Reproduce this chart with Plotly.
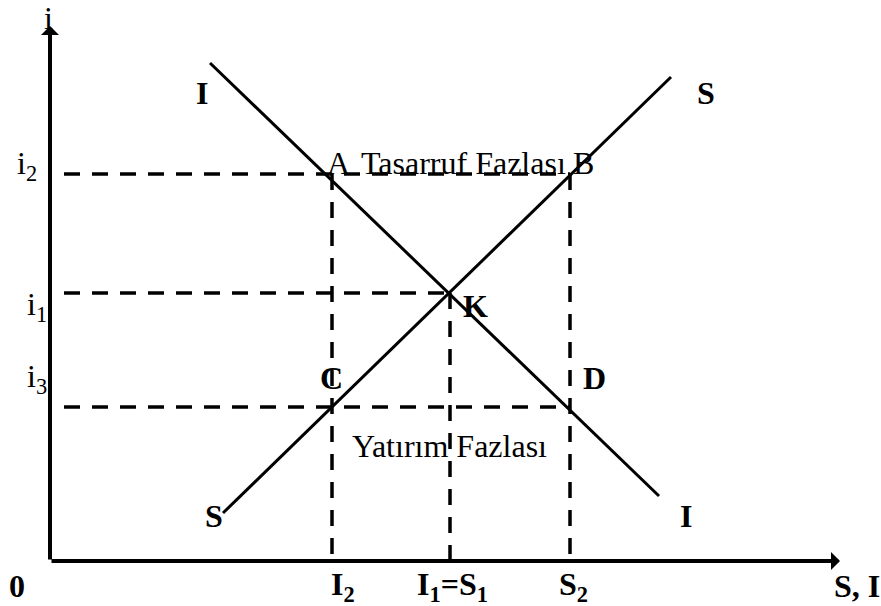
"""
Tasarruf - yatırım dengesi diyagramı (S, I eğrileri ve faiz seviyeleri).
"""

import plotly.graph_objects as go

# ---------------------------------------------------------------------------
# Data
# ---------------------------------------------------------------------------

# faiz seviyeleri
i_names  = ["i2", "i1", "i3"]
i_values = [38.7, 26.8, 15.4]

# miktarlar (yatay eksen)
q_names  = ["I2", "I1=S1", "S2"]
q_values = [28.2, 40.0, 52.0]

# yatırım (I) ve tasarruf (S) eğrileri — uç noktalar
invest_x = [16.0, 60.9]
invest_y = [49.8, 6.5]
saving_x = [17.3, 62.1]
saving_y = [4.8, 48.4]

# eksen uzunlukları
x_axis_end = 79.0
y_axis_end = 53.5

# ---------------------------------------------------------------------------
# Style
# ---------------------------------------------------------------------------

FONT = "Liberation Serif, Times New Roman, serif"
INK = "#000000"
DASH = "16px,12px"
SIZE = 32

i2, i1, i3 = i_values
I2, I1, S2 = q_values

fig = go.Figure()


def _line(xs, ys, dash=None, width=3):
    fig.add_trace(
        go.Scatter(
            x=xs, y=ys, mode="lines",
            line=dict(color=INK, width=width, dash=dash),
            hoverinfo="skip", showlegend=False,
        )
    )


# eğriler
_line(invest_x, invest_y)
_line(saving_x, saving_y)

# kesikli yardımcı çizgiler
dash_start = 1.4
_line([dash_start, S2], [i2, i2], DASH, 3.5)
_line([dash_start, I1], [i1, i1], DASH, 3.5)
_line([dash_start, S2], [i3, i3], DASH, 3.5)
_line([I2, I2], [i2, 0], DASH, 3.5)
_line([I1, I1], [i1, 0], DASH, 3.5)
_line([S2, S2], [i2, 0], DASH, 3.5)

annotations = []

# eksenler (ok başlı)
for tip in [(x_axis_end, 0), (0, y_axis_end)]:
    annotations.append(dict(
        x=tip[0], y=tip[1], ax=0, ay=0, xref="x", yref="y",
        axref="x", ayref="y", text="", showarrow=True,
        arrowhead=1, arrowsize=0.75, arrowwidth=4, arrowcolor=INK,
        font=dict(size=SIZE),
    ))


def _label(x, y, text, dx, dy, bold=False, size=SIZE):
    if bold:
        text = f"<b>{text}</b>"
    annotations.append(dict(
        x=x, y=y, xref="x", yref="y", text=text, showarrow=False,
        xshift=dx, yshift=dy, xanchor="center", yanchor="middle",
        font=dict(family=FONT, size=size, color=INK),
    ))


def _sub(name):
    # "i2" -> i<sub>2</sub>, "I1=S1" -> I<sub>1</sub>=S<sub>1</sub>
    out = ""
    for ch in name:
        out += f"<sub>{ch}</sub>" if ch.isdigit() else ch
    return out


# eksen başlıkları
_label(0, y_axis_end, "i", -2, 8)
_label(0, 0, "0", -33, -25, bold=True)
_label(x_axis_end, 0, "S, I", 17, -25, bold=True)

# faiz etiketleri
for name, val, dx, dy in zip(i_names, i_values, [-23, -13, -13], [9, -13, 29]):
    _label(0, val, _sub(name), dx, dy)

# miktar etiketleri
for name, val, dx in zip(q_names, q_values, [11, 2, 3]):
    _label(val, 0, _sub(name), dx, -25, bold=True)

# eğri adları
_label(invest_x[0], invest_y[0], "I", -8, -30, bold=True)
_label(invest_x[1], invest_y[1], "I", 27, -20, bold=True)
_label(saving_x[0], saving_y[0], "S", -9, -3, bold=True)
_label(saving_x[1], saving_y[1], "S", 35, -16, bold=True)

# noktalar ve bölgeler
_label(I2, i2, "A", 6, 11)
_label(S2, i2, "B", 13, 11)
_label((I2 + S2) / 2, i2, "Tasarruf Fazlası", 12, 11)
_label(I1, i1, "K", 25, -13, bold=True)
_label(I2, i3, "C", -1, 29, bold=True)
_label(S2, i3, "D", 24, 29, bold=True)
_label((I2 + S2) / 2, i3, "Yatırım Fazlası", -2, -39)

fig.update_layout(
    width=881,
    height=606,
    margin=dict(l=0, r=0, t=0, b=0),
    paper_bgcolor="white",
    plot_bgcolor="white",
    xaxis=dict(range=[-5, 83.1], visible=False, fixedrange=True),
    yaxis=dict(range=[-4.5, 56.1], visible=False, fixedrange=True),
    annotations=annotations,
    showlegend=False,
)

# sayfanın varsayılan 8px kenar boşluğunu kaldır, grafik pencereyi tam doldursun
fig.write_html(
    "out.html",
    config={"displayModeBar": False},
    post_script="document.body.style.margin='0';",
)
